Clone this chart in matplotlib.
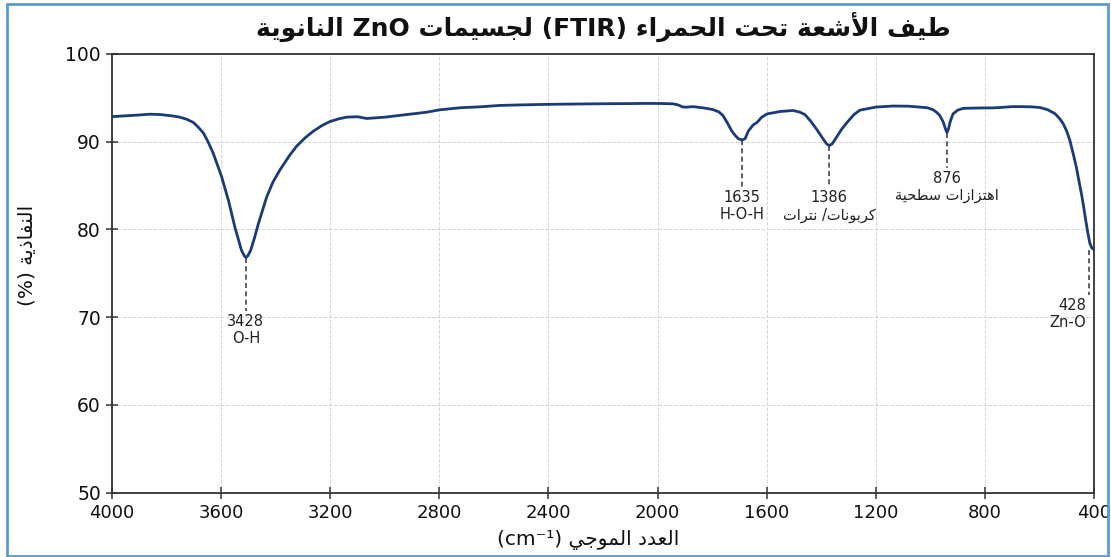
import matplotlib
matplotlib.use("Agg")
from matplotlib import pyplot as plt
from matplotlib.patches import Rectangle

# spectrum (wavenumber, transmittance %)
wavenumber = [4000, 3900, 3861, 3824, 3780, 3751, 3725, 3702, 3685, 3665, 3648, 3629,
              3598, 3573, 3549, 3525, 3515, 3509, 3502, 3492, 3478, 3464, 3433, 3410,
              3384, 3350, 3323, 3290, 3262, 3230, 3201, 3170, 3140, 3100, 3066, 3000,
              2908, 2850, 2798, 2724, 2651, 2578, 2500, 2405, 2300, 2200, 2100, 2039,
              1990, 1943, 1925, 1907, 1890, 1870, 1830, 1797, 1775, 1760, 1745, 1728,
              1715, 1704, 1690, 1679, 1667, 1650, 1635, 1618, 1599, 1550, 1503, 1478,
              1460, 1440, 1417, 1392, 1380, 1371, 1360, 1349, 1325, 1305, 1280, 1258,
              1200, 1137, 1080, 1012, 990, 975, 965, 952, 945, 939, 933, 928, 917, 900,
              880, 866, 820, 770, 745, 700, 671, 630, 598, 570, 543, 525, 512, 500, 488,
              476, 464, 455, 445, 437, 429, 422, 415, 408, 400]
transmittance = [92.86, 93.05, 93.14, 93.1, 92.95, 92.8, 92.55, 92.2, 91.7, 91.0, 90.0, 88.7,
                 86.0, 83.3, 80.2, 77.6, 77.0, 76.8, 77.0, 77.6, 79.0, 80.6, 83.7, 85.4,
                 86.8, 88.4, 89.5, 90.5, 91.2, 91.85, 92.3, 92.6, 92.8, 92.85, 92.65, 92.8,
                 93.14, 93.35, 93.64, 93.87, 93.98, 94.14, 94.2, 94.26, 94.3, 94.33, 94.35, 94.37,
                 94.36, 94.32, 94.2, 93.95, 93.95, 94.0, 93.85, 93.67, 93.4, 92.98, 92.2, 91.23,
                 90.7, 90.35, 90.2, 90.35, 91.23, 91.9, 92.21, 92.8, 93.17, 93.45, 93.56, 93.37,
                 93.1, 92.4, 91.43, 90.27, 89.75, 89.57, 89.75, 90.27, 91.43, 92.21, 93.1, 93.6,
                 93.95, 94.07, 94.05, 93.88, 93.65, 93.3, 92.98, 92.2, 91.5, 91.05, 91.5, 92.2,
                 93.17, 93.6, 93.8, 93.82, 93.85, 93.86, 93.9, 94.0, 94.0, 93.98, 93.9, 93.65,
                 93.2, 92.6, 92.0, 91.2, 90.1, 88.6, 87.0, 85.5, 83.9, 82.4, 80.8, 79.5,
                 78.4, 77.9, 77.7]

# annotated bands: where the marker sits, how far the dashed line goes, label text
peak_x = [3509, 1690, 1371, 939, 418]
peak_y = [76.8, 90.2, 89.57, 91.05, 77.7]
peak_line_end = [70.7, 84.8, 84.8, 87.0, 72.5]
peak_numbers = ['3428', '1635', '1386', '876', '428']
peak_names = ['O-H', 'H-O-H', 'كربونات/ نترات', 'اهتزازات سطحية', 'Zn-O']

x_ticks = [4000, 3600, 3200, 2800, 2400, 2000, 1600, 1200, 800, 400]
y_ticks = [50, 60, 70, 80, 90, 100]

title_text = 'طيف الأشعة تحت الحمراء (FTIR) لجسيمات ZnO النانوية'
xlabel_text = 'العدد الموجي (cm⁻¹)'
ylabel_text = 'النفاذية (%)'

# --- minimal Arabic shaping (matplotlib has no complex text layout) ---
FORMS = {
    'ء': (0xFE80, 'U'), 'أ': (0xFE83, 'R'), 'ا': (0xFE8D, 'R'), 'ب': (0xFE8F, 'D'),
    'ة': (0xFE93, 'R'), 'ت': (0xFE95, 'D'), 'ج': (0xFE9D, 'D'), 'ح': (0xFEA1, 'D'),
    'د': (0xFEA9, 'R'), 'ذ': (0xFEAB, 'R'), 'ر': (0xFEAD, 'R'), 'ز': (0xFEAF, 'R'),
    'س': (0xFEB1, 'D'), 'ش': (0xFEB5, 'D'), 'ط': (0xFEC1, 'D'), 'ع': (0xFEC9, 'D'),
    'ف': (0xFED1, 'D'), 'ك': (0xFED9, 'D'), 'ل': (0xFEDD, 'D'), 'م': (0xFEE1, 'D'),
    'ن': (0xFEE5, 'D'), 'ه': (0xFEE9, 'D'), 'و': (0xFEED, 'R'), 'ي': (0xFEF1, 'D'),
}
LAM_ALEF = {'ا': 0xFEFB, 'أ': 0xFEF7}


def shape_word(word):
    chars = list(word)
    out = []
    i = 0
    while i < len(chars):
        c = chars[i]
        if c not in FORMS:
            out.append(c)
            i += 1
            continue
        prev = chars[i - 1] if i > 0 else None
        joins_prev = prev in FORMS and FORMS[prev][1] == 'D'
        if c == 'ل' and i + 1 < len(chars) and chars[i + 1] in LAM_ALEF:
            base = LAM_ALEF[chars[i + 1]]
            out.append(chr(base + 1 if joins_prev else base))
            i += 2
            continue
        base, kind = FORMS[c]
        nxt = chars[i + 1] if i + 1 < len(chars) else None
        joins_next = kind == 'D' and nxt in FORMS and FORMS[nxt][1] != 'U'
        if kind == 'U':
            form = base
        elif kind == 'R':
            form = base + 1 if joins_prev else base
        else:
            form = base + (3 if joins_prev and joins_next else 2 if joins_next
                           else 1 if joins_prev else 0)
        out.append(chr(form))
        i += 1
    return ''.join(reversed(out))


def rtl(text):
    tokens = []
    for t in text.split(' '):
        if any(ch in FORMS for ch in t):
            tokens.append(shape_word(t))
        else:
            tokens.append(t)
    return ' '.join(reversed(tokens))


plt.rcParams['font.family'] = ['DejaVu Sans']

fig = plt.figure(figsize=(11.11, 5.57), dpi=100)
ax = fig.add_axes([112 / 1111, 1 - 492.7 / 557, 982 / 1111, (492.7 - 54) / 557])

ax.plot(wavenumber, transmittance, color='#1b3a7a', lw=2.0, zorder=3)

for px, py, pend, num, name in zip(peak_x, peak_y, peak_line_end, peak_numbers, peak_names):
    ax.plot([px, px], [py, pend], color='#444444', lw=1.2, ls=(0, (3, 2)), zorder=2)
    label = num + '\n' + (rtl(name) if any(ch in FORMS for ch in name) else name)
    if px < 500:
        ax.text(px + 10, pend - 0.3, label, ha='right', va='top', fontsize=10.5,
                color='#222222', multialignment='right', linespacing=1.2)
    else:
        ax.text(px, pend - 0.3, label, ha='center', va='top', fontsize=10.5,
                color='#222222', multialignment='center', linespacing=1.2)

ax.set_xlim(4000, 400)
ax.set_ylim(50, 100)
ax.set_xticks(x_ticks)
ax.set_yticks(y_ticks)
ax.grid(True, color='#d4d4d4', ls='--', lw=0.7)
ax.tick_params(axis='both', direction='inout', length=8, width=1.1, color='#333333',
               labelcolor='#111111')
ax.tick_params(axis='y', labelsize=13.5, pad=4)
ax.tick_params(axis='x', labelsize=13, pad=4)
for s in ax.spines.values():
    s.set_color('#333333')
    s.set_linewidth(1.3)

fig.text(603 / 1111, 1 - 27 / 557, rtl(title_text), ha='center', va='center',
         fontsize=18, fontweight='bold', color='#111111')
fig.text(588 / 1111, 1 - 540 / 557, rtl(xlabel_text), ha='center', va='center',
         fontsize=14.5, color='#111111')
fig.text(28 / 1111, 1 - 255 / 557, rtl(ylabel_text), ha='center', va='center',
         rotation=90, fontsize=14.5, color='#111111')

fig.patches.append(Rectangle((7 / 1111, 1.5 / 557), 1101 / 1111, 552 / 557,
                             transform=fig.transFigure, fill=False,
                             edgecolor='#5b9bd5', lw=2))

fig.savefig('out.png', dpi=100)
